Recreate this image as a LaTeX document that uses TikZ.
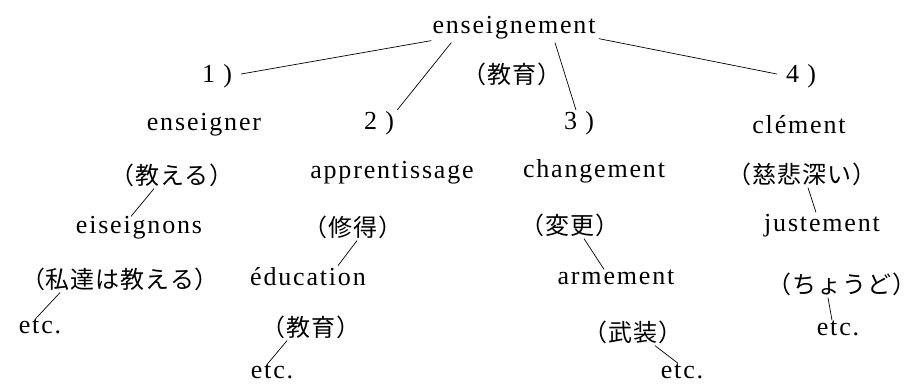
\documentclass[tikz,border=0pt]{standalone}
\usepackage{fontspec}
\usetikzlibrary{calc}
\setmainfont{Liberation Serif}[LetterSpace=7]
\newfontfamily\cjk{Noto Sans CJK JP}[LetterSpace=4]
\begin{document}
\begin{tikzpicture}[x=1pt,y=-1pt,
  lat/.style={inner sep=1pt,font=\fontsize{26}{29}\selectfont},
  jp/.style={inner sep=1pt,font=\fontsize{24}{27}\selectfont\cjk},
  link/.style={line width=0.7pt}]
\useasboundingbox (0,0) rectangle (916,385);
% level 0/1
\node[lat] (top)  at (514,28) {enseignement};
\node[lat] (n1)   at (217,76) {1 )};
\node[jp]  (kyo)  at (512,74) {（教育）};
\node[lat] (n4)   at (801,76) {4 )};
% level 2
\node[lat] (enser) at (204,125) {enseigner};
\node[lat] (n2)    at (379,123) {2 )};
\node[lat] (n3)    at (579,123) {3 )};
\node[lat] (clem)  at (799,125) {clément};
% level 3
\node[jp]  (oshi)  at (172,175) {（教える）};
\node[lat] (appr)  at (392,173) {apprentissage};
\node[lat] (chg)   at (594,171) {changement};
\node[jp]  (jihi)  at (802,174) {（慈悲深い）};
% level 4
\node[lat] (eis)   at (139,228) {eiseignons};
\node[jp]  (shu)   at (353,227) {（修得）};
\node[jp]  (hen)   at (570,225) {（変更）};
\node[lat] (just)  at (822,226) {justement};
% level 5
\node[jp]  (wata)  at (120,279) {（私達は教える）};
\node[lat] (edu)   at (308,277) {éducation};
\node[lat] (arm)   at (616,277) {armement};
\node[jp]  (chou)  at (842,284) {（ちょうど）};
% level 6
\node[lat] (etca)  at (40,326) {etc.};
\node[jp]  (kyob)  at (311,327) {（教育）};
\node[jp]  (bu)    at (633,332) {（武装）};
\node[lat] (etcd)  at (838,328) {etc.};
% level 7
\node[lat] (etcb)  at (272,371) {etc.};
\node[lat] (etcc)  at (682,371) {etc.};
% connectors
\draw[link] (top.south west) -- ($(n1.east)+(8,-2)$);
\draw[link] ($(top.south west)+(20,2)$) -- ($(n2.north east)+(2,0)$);
\draw[link] ($(top.south)+(41,2)$) -- ($(n3.north)+(-3,0)$);
\draw[link] ($(top.south east)+(2,-2)$) -- ($(n4.west)+(-8,-2)$);
\draw[link] ($(oshi.south)+(-18,1)$) -- ($(eis.north)+(-8,1)$);
\draw[link] ($(wata.south)+(-60,1)$) -- ($(etca.north)+(-4,1)$);
\draw[link] ($(shu.south)+(4,1)$) -- ($(edu.north)+(30,-1)$);
\draw[link] ($(kyob.south)+(-24,1)$) -- ($(etcb.north)+(-4,1)$);
\draw[link] ($(hen.south)+(14,1)$) -- ($(arm.north)+(-12,1)$);
\draw[link] ($(bu.south)+(22,1)$) -- ($(etcc.north)+(-4,1)$);
\draw[link] ($(jihi.south)+(6,1)$) -- ($(just.north)+(-6,-1)$);
\draw[link] ($(chou.south)+(-14,1)$) -- ($(etcd.north)+(-6,1)$);
\end{tikzpicture}
\end{document}
